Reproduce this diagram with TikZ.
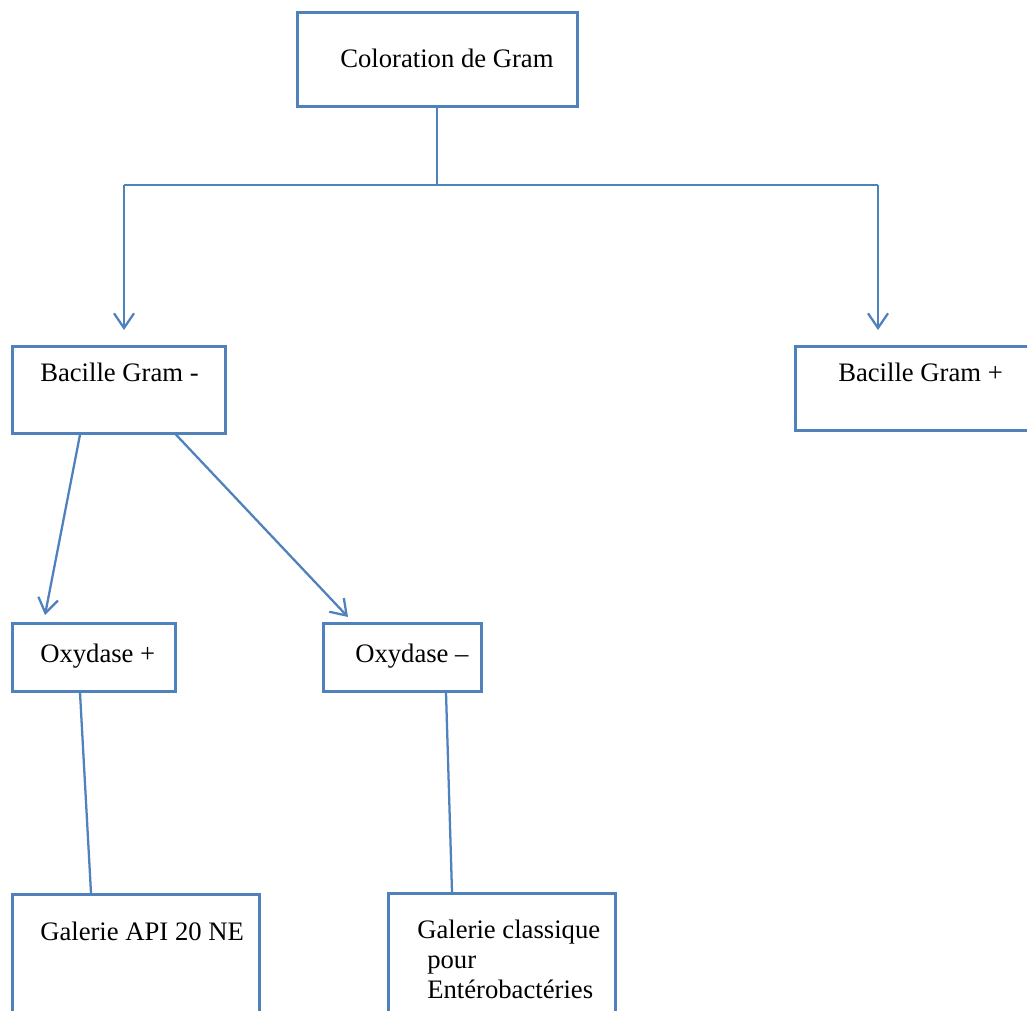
\documentclass[tikz,border=0pt]{standalone}
\usepackage{fontspec}
\setmainfont{Liberation Serif}
\usepackage{tikz}
\usetikzlibrary{arrows.meta}
\definecolor{wordblue}{HTML}{4F81BD}
\tikzset{
	boxstyle/.style={rectangle,draw=wordblue,line width=2pt,fill=white,anchor=north west,inner sep=0pt},
	textstyle/.style={anchor=base west,inner sep=0pt,font=\fontsize{20}{22.5}\selectfont},
	linestyle/.style={draw=wordblue,line width=1.7pt},
	arrowstyle/.style={linestyle,-{Straight Barb[length=11pt,width=15pt,line width=1.7pt]}}
}
\begin{document}
\begin{tikzpicture}[x=0.75pt,y=-0.75pt]
	\clip (0,0) rectangle (1027,1010);
	\fill[white] (0,0) rectangle (1027,1010);
	\node[boxstyle,minimum width=210pt,minimum height=70.5pt] (col) at (296,11) {};
	\node[boxstyle,minimum width=159.75pt,minimum height=65.25pt] (gneg) at (11,345) {};
	\node[boxstyle,minimum width=190pt,minimum height=63pt] (gpos) at (794,345) {};
	\node[boxstyle,minimum width=122.25pt,minimum height=51pt] (oxp) at (11,622) {};
	\node[boxstyle,minimum width=118.5pt,minimum height=51pt] (oxn) at (322,622) {};
	\node[boxstyle,minimum width=185.25pt,minimum height=112.5pt] (api) at (11,893) {};
	\node[boxstyle,minimum width=170.25pt,minimum height=112.5pt] (cla) at (387,892) {};
	\node[textstyle] (coltext) at ([shift={(44,56)}]col.north west) {Coloration de Gram};
	\node[textstyle] (gnegtext) at ([shift={(29,36)}]gneg.north west) {Bacille Gram -};
	\node[textstyle] (gpostext) at ([shift={(44,36)}]gpos.north west) {Bacille Gram +};
	\node[textstyle] (oxptext) at ([shift={(29,40)}]oxp.north west) {Oxydase +};
	\node[textstyle] (oxntext) at ([shift={(33,40)}]oxn.north west) {Oxydase –};
	\node[textstyle] (apitext) at ([shift={(29,47)}]api.north west) {Galerie API 20 NE};
	\node[textstyle,align=left,anchor=north west] (clatext) at ([shift={(30,28)}]cla.north west) {Galerie classique\\\hspace{7.5pt}pour\\\hspace{7.5pt}Entérobactéries};
	\coordinate (split) at (col.south |- 0,185);
	\coordinate (lt) at (124,185);
	\coordinate (rt) at (878,185);
	\coordinate (ltend) at ([shift={(113,-15)}]gneg.north west);
	\coordinate (rtend) at ([shift={(84,-15)}]gpos.north west);
	\draw[linestyle] (col.south) -- (split);
	\draw[linestyle] (lt) -- (rt);
	\draw[arrowstyle] (lt) -- (ltend);
	\draw[arrowstyle] (rt) -- (rtend);
	\draw[arrowstyle] ([shift={(69,0)}]gneg.south west) -- ([shift={(34,-7)}]oxp.north west);
	\draw[arrowstyle] ([shift={(165,0)}]gneg.south west) -- ([shift={(26,-5)}]oxn.north west);
	\draw[linestyle] ([shift={(69,0)}]oxp.south west) -- ([shift={(80,0)}]api.north west);
	\draw[linestyle] ([shift={(124,0)}]oxn.south west) -- ([shift={(65,0)}]cla.north west);
\end{tikzpicture}
\end{document}
